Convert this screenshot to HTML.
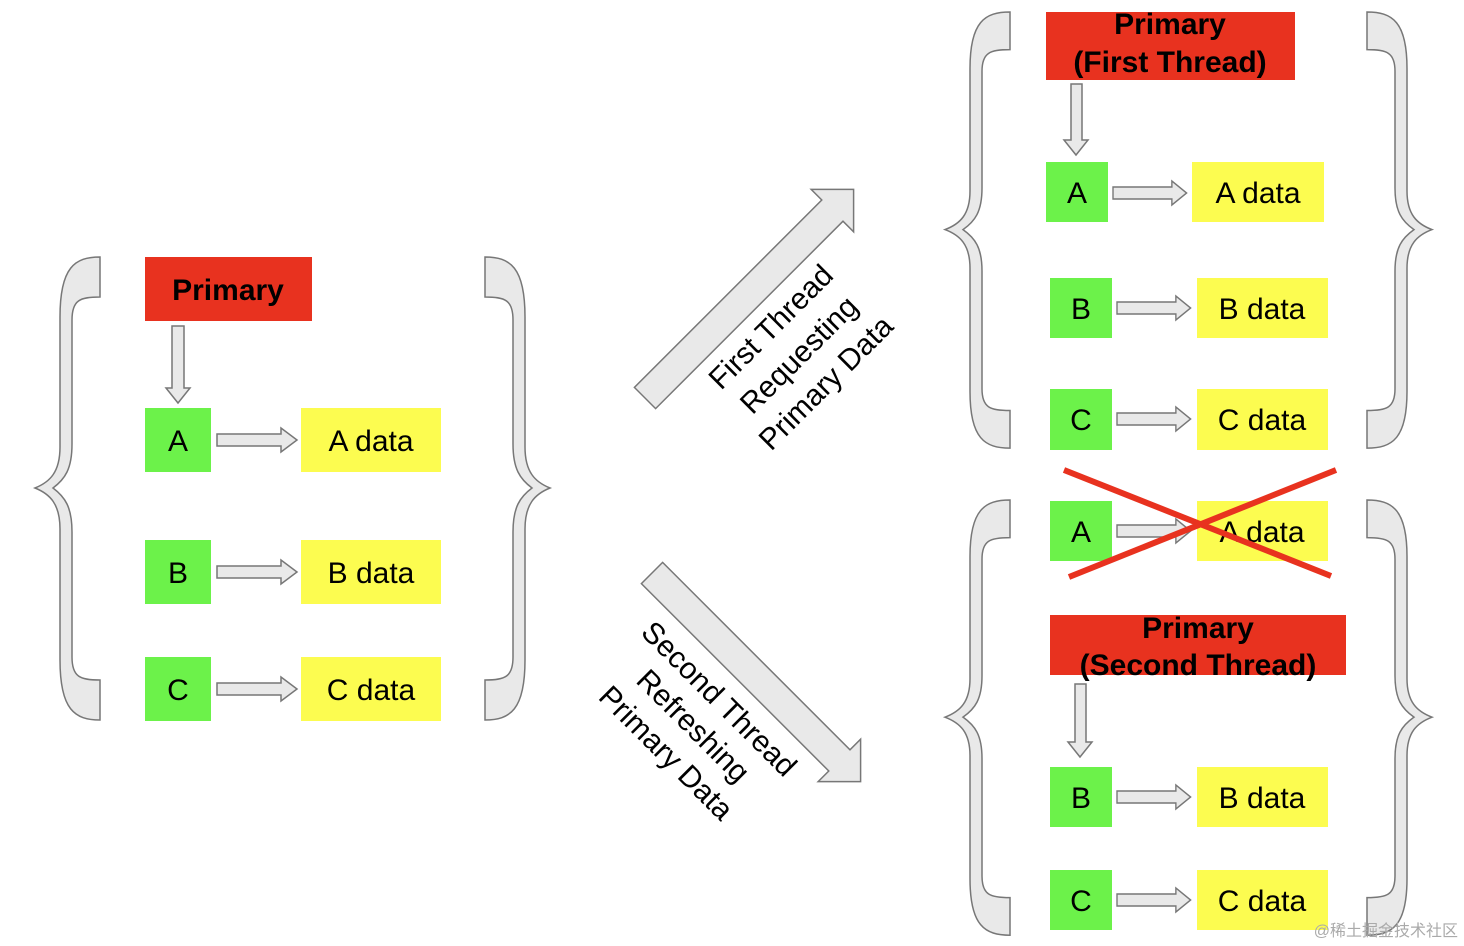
<!DOCTYPE html>
<html><head><meta charset="utf-8"><style>
html,body{margin:0;padding:0;background:#fff;}
svg{display:block;}
text{font-family:"Liberation Sans",Arial,sans-serif;}
</style></head><body>
<svg width="1464" height="946" viewBox="0 0 1464 946" xmlns="http://www.w3.org/2000/svg">
<defs>
<path id="br" d="M65,0 C40,0 25,10 25,60 L25,190 C25,215 15,225 0,231 C15,237 25,247 25,272 L25,403 C25,453 40,463 65,463 L65,423 C45,423 37,420 37,400 L37,275 C37,250 30,240 18,231 C30,222 37,212 37,187 L37,63 C37,43 45,40 65,40 Z" fill="#e9e9e9" stroke="#777" stroke-width="1.5" vector-effect="non-scaling-stroke"/>
<polygon id="ha" points="0,-6 64,-6 64,-12 80,0 64,12 64,6 0,6" fill="#e9e9e9" stroke="#777" stroke-width="1.5"/>
</defs>
<use href="#br" transform="translate(35,257)"/>
<use href="#br" transform="translate(550,257) scale(-1,1)"/>
<use href="#br" transform="translate(945,12) scale(1,0.942)"/>
<use href="#br" transform="translate(1432,12) scale(-1,0.942)"/>
<use href="#br" transform="translate(945,500) scale(1,0.94)"/>
<use href="#br" transform="translate(1432,500) scale(-1,0.94)"/>

<g font-size="30" text-anchor="middle">
<rect x="145" y="257" width="167" height="64" fill="#e8321f"/>
<text x="228" y="300" font-weight="bold">Primary</text>
<polygon points="172,326 184,326 184,388 190,388 178,403 166,388 172,388" fill="#e9e9e9" stroke="#777" stroke-width="1.5"/>
<rect x="145" y="408" width="66" height="64" fill="#6cf24a"/><text x="178" y="451">A</text>
<rect x="301" y="408" width="140" height="64" fill="#fcfc50"/><text x="371" y="451">A data</text>
<use href="#ha" transform="translate(217,440)"/>
<rect x="145" y="540" width="66" height="64" fill="#6cf24a"/><text x="178" y="583">B</text>
<rect x="301" y="540" width="140" height="64" fill="#fcfc50"/><text x="371" y="583">B data</text>
<use href="#ha" transform="translate(217,572)"/>
<rect x="145" y="657" width="66" height="64" fill="#6cf24a"/><text x="178" y="700">C</text>
<rect x="301" y="657" width="140" height="64" fill="#fcfc50"/><text x="371" y="700">C data</text>
<use href="#ha" transform="translate(217,689)"/>

<polygon points="0,-15 265,-15 265,-30 295,0 265,30 265,15 0,15" fill="#e9e9e9" stroke="#777" stroke-width="1.5" transform="translate(645,398) rotate(-45)"/>
<polygon points="0,-15 265,-15 265,-30 295,0 265,30 265,15 0,15" fill="#e9e9e9" stroke="#777" stroke-width="1.5" transform="translate(652,573) rotate(45)"/>
<text transform="translate(778,334) rotate(-45)">First Thread</text>
<text transform="translate(806,362) rotate(-45)">Requesting</text>
<text transform="translate(833,390) rotate(-45)">Primary Data</text>
<text transform="translate(712,706) rotate(45)">Second Thread</text>
<text transform="translate(686,733) rotate(45)">Refreshing</text>
<text transform="translate(659,760) rotate(45)">Primary Data</text>

<rect x="1046" y="12" width="249" height="68" fill="#e8321f"/>
<text x="1170" y="34" font-weight="bold">Primary</text>
<text x="1170" y="72" font-weight="bold">(First Thread)</text>
<polygon points="1071,84 1082,84 1082,140 1088,140 1076,155 1064,140 1071,140" fill="#e9e9e9" stroke="#777" stroke-width="1.5"/>
<rect x="1046" y="162" width="62" height="60" fill="#6cf24a"/><text x="1077" y="203">A</text>
<rect x="1192" y="162" width="132" height="60" fill="#fcfc50"/><text x="1258" y="203">A data</text>
<use href="#ha" transform="translate(1113,193) scale(0.92,1)"/>
<rect x="1050" y="278" width="62" height="60" fill="#6cf24a"/><text x="1081" y="319">B</text>
<rect x="1197" y="278" width="131" height="60" fill="#fcfc50"/><text x="1262" y="319">B data</text>
<use href="#ha" transform="translate(1117,308) scale(0.92,1)"/>
<rect x="1050" y="389" width="62" height="61" fill="#6cf24a"/><text x="1081" y="430">C</text>
<rect x="1197" y="389" width="131" height="61" fill="#fcfc50"/><text x="1262" y="430">C data</text>
<use href="#ha" transform="translate(1117,419) scale(0.92,1)"/>

<rect x="1050" y="501" width="62" height="60" fill="#6cf24a"/><text x="1081" y="542">A</text>
<rect x="1197" y="501" width="131" height="60" fill="#fcfc50"/><text x="1262" y="542">A data</text>
<use href="#ha" transform="translate(1117,531) scale(0.92,1)"/>
<line x1="1064" y1="470" x2="1331" y2="576" stroke="#e8321f" stroke-width="6"/>
<line x1="1069" y1="577" x2="1336" y2="470" stroke="#e8321f" stroke-width="6"/>

<rect x="1050" y="615" width="296" height="60" fill="#e8321f"/>
<text x="1198" y="638" font-weight="bold">Primary</text>
<text x="1198" y="675" font-weight="bold">(Second Thread)</text>
<polygon points="1075,684 1086,684 1086,742 1092,742 1080,757 1068,742 1075,742" fill="#e9e9e9" stroke="#777" stroke-width="1.5"/>
<rect x="1050" y="767" width="62" height="60" fill="#6cf24a"/><text x="1081" y="808">B</text>
<rect x="1197" y="767" width="131" height="60" fill="#fcfc50"/><text x="1262" y="808">B data</text>
<use href="#ha" transform="translate(1117,797) scale(0.92,1)"/>
<rect x="1050" y="870" width="62" height="60" fill="#6cf24a"/><text x="1081" y="911">C</text>
<rect x="1197" y="870" width="131" height="60" fill="#fcfc50"/><text x="1262" y="911">C data</text>
<use href="#ha" transform="translate(1117,900) scale(0.92,1)"/>
</g>
<text x="1458" y="936" font-size="16" text-anchor="end" fill="#aaa" style="font-family:'Liberation Sans','Noto Sans CJK SC',sans-serif">@稀土掘金技术社区</text>
</svg>
</body></html>
